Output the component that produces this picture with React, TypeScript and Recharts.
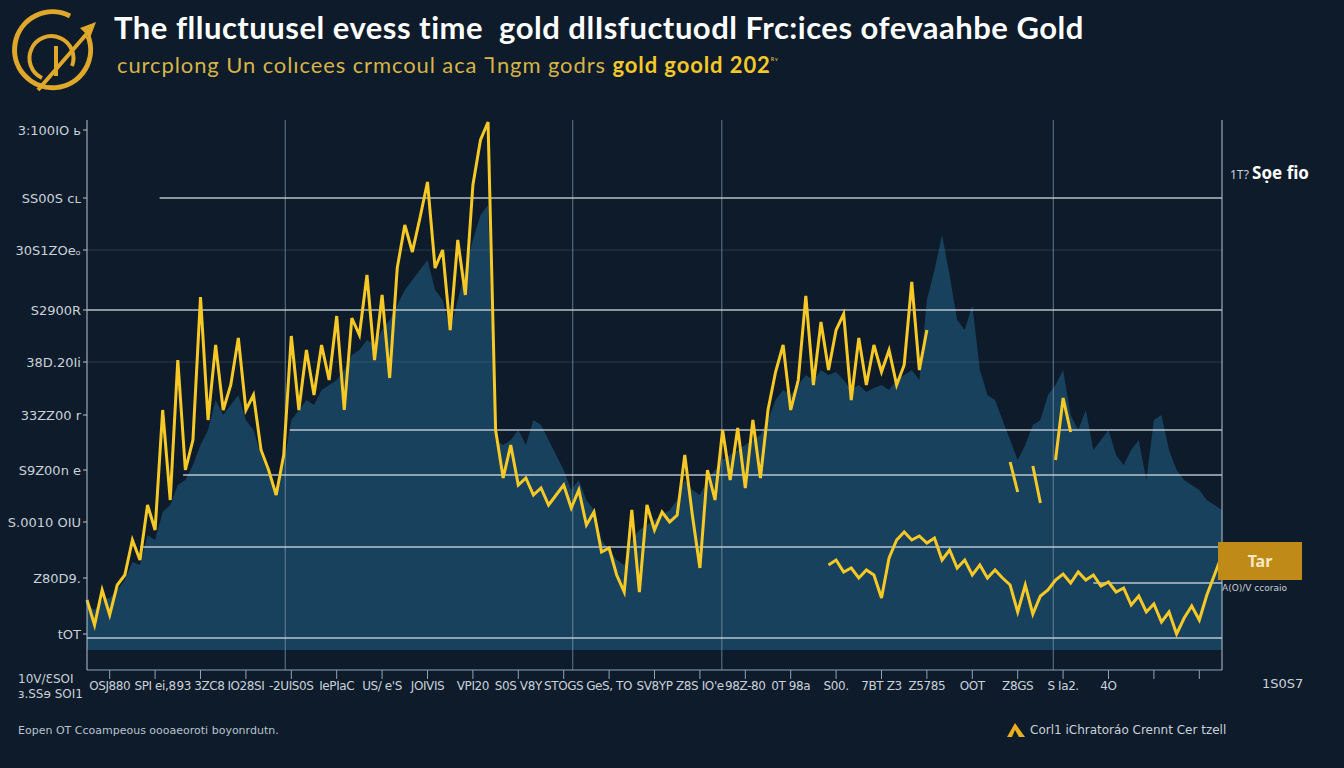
import React from 'react';
import { ComposedChart, Area, Line, XAxis, YAxis, ReferenceLine } from 'recharts';

// gold price, main trace (null = gap)
const goldMain: (number | null)[] = [
  1140, 1090, 1160, 1110, 1170, 1190, 1260, 1220, 1330, 1280,
  1520, 1340, 1620, 1400, 1460, 1746, 1500, 1650, 1520, 1570,
  1664, 1520, 1550, 1440, 1400, 1350, 1430, 1668, 1520, 1640,
  1550, 1650, 1580, 1708, 1520, 1704, 1670, 1790, 1620, 1750,
  1584, 1804, 1890, 1836, 1904, 1976, 1804, 1840, 1680, 1860,
  1750, 1970, 2060, 2096, 1480, 1384, 1450, 1370, 1384, 1350,
  1364, 1330, 1350, 1370, 1324, 1360, 1290, 1316, 1236, 1244,
  1190, 1156, 1320, 1156, 1330, 1280, 1316, 1296, 1310, 1430,
  1310, 1204, 1400, 1340, 1480, 1380, 1484, 1364, 1500, 1384,
  1520, 1596, 1650, 1520, 1580, 1748, 1570, 1696, 1600, 1680,
  1712, 1540, 1664, 1570, 1650, 1596, 1640, 1570, 1610, 1776,
  1600, 1680, null, null, null, null, null, null, null, null,
  null, null, 1416, 1356, null, 1408, 1334, null, 1420, 1544,
  1476, null, null, null, null, null, null, null, null, null,
  null, null, null, null, null, null, null, null, null, null,
  null,
];

// gold price, lower trace on the right
const goldLower: (number | null)[] = [
  null, null, null, null, null, null, null, null, null, null,
  null, null, null, null, null, null, null, null, null, null,
  null, null, null, null, null, null, null, null, null, null,
  null, null, null, null, null, null, null, null, null, null,
  null, null, null, null, null, null, null, null, null, null,
  null, null, null, null, null, null, null, null, null, null,
  null, null, null, null, null, null, null, null, null, null,
  null, null, null, null, null, null, null, null, null, null,
  null, null, null, null, null, null, null, null, null, null,
  null, null, null, null, null, null, null, null, 1210, 1220,
  1196, 1204, 1184, 1200, 1190, 1144, 1224, 1260, 1276, 1260,
  1268, 1254, 1264, 1220, 1240, 1204, 1220, 1190, 1210, 1184,
  1200, 1184, 1170, 1116, 1170, 1112, 1148, 1160, 1180, 1192,
  1174, 1196, 1180, 1190, 1168, 1176, 1156, 1164, 1130, 1148,
  1116, 1132, 1096, 1116, 1072, 1104, 1128, 1100, 1150, 1190,
  1230,
];

// blue background volume
const volume: number[] = [
  1130, 1120, 1140, 1144, 1160, 1180, 1216, 1210, 1270, 1260,
  1316, 1330, 1370, 1380, 1410, 1450, 1480, 1540, 1510, 1530,
  1550, 1500, 1480, 1430, 1390, 1360, 1410, 1500, 1520, 1540,
  1530, 1560, 1570, 1580, 1600, 1630, 1640, 1660, 1650, 1680,
  1700, 1730, 1760, 1780, 1800, 1820, 1760, 1740, 1680, 1740,
  1800, 1860, 1910, 1930, 1460, 1450, 1460, 1480, 1450, 1500,
  1490, 1460, 1430, 1400, 1360, 1380, 1340, 1320, 1260, 1240,
  1220, 1210, 1260, 1280, 1290, 1300, 1310, 1320, 1340, 1380,
  1360, 1350, 1380, 1400, 1420, 1430, 1440, 1450, 1460, 1470,
  1500, 1540, 1560, 1550, 1570, 1590, 1580, 1600, 1590, 1596,
  1580, 1560, 1570, 1556, 1564, 1570, 1560, 1580, 1590, 1600,
  1580, 1740, 1800, 1870, 1790, 1700, 1680, 1730, 1600, 1550,
  1540, 1500, 1460, 1420, 1450, 1490, 1500, 1550, 1570, 1600,
  1510, 1480, 1520, 1440, 1460, 1480, 1430, 1410, 1440, 1460,
  1380, 1500, 1510, 1440, 1400, 1380, 1370, 1360, 1340, 1330,
  1320,
];

const leftTicks = [2080, 1944, 1840, 1720, 1616, 1510, 1400, 1296, 1184, 1072];
const leftLabels = ['3:100IO ь', 'SS00S ᴄʟ', '30S1ZOeₒ', 'S2900R', '38D.20Ii', '33ZZ00 r', 'S9Z00n e', 'S.0010 OIU', 'Z80D9.', 'tOT'];

const rightTicks = [1954, 1840, 1724, 1616, 1494, 1384, 1266, 1074];
const rightLabels = ['2022TOS', '3000 20 00', '38k4G8S', 'AS/04..387', '1OI 3900', 'S29 A 00C', "197.6c/327'2S", '3U29S'];

const xTicks = [3, 9, 15, 21, 27, 33, 39, 45, 51, 57, 63, 69, 75, 81, 87, 93, 99, 105, 111, 117, 123, 129, 135, 141, 147];
const xLabels = ['OSJ880', 'SPI ei,8', '93 3ZC8', 'IO28SI', '-2UIS0S', 'IePIaC', "US/ e'S", 'JOIVIS', 'VPI20', 'S0S V8Y', 'STOGS', 'GeS, TO', 'SV8YP', "Z8S IO'e", '98Z-80', '0T 98a', 'S00.', '7BT Z3', 'Z5785', 'OOT', 'Z8GS', 'S Ia2.', '4O', '', ''];

// horizontal grid levels: [price, from index]
const hLevels: [number, number][] = [[1944, 9.6], [1720, 0], [1480, 26.8], [1390, 12.7], [1246, 7], [1174, 133], [1064, 0]];
const hFaint = [1840, 1616];
const vLevels = [26.2, 64.2, 83.9, 127.7];

const data = volume.map((v, i) => ({ i, vol: v, gold: goldMain[i], gold2: goldLower[i] }));

const BG = '#0d1b2a';
const GOLD = '#f6c927';
const TXT = '#c9d2db';

const Logo = () => (
  <svg width={90} height={90} style={{ position: 'absolute', left: 10, top: 6 }}>
    <path d="M 78 30 A 38 38 0 1 1 60 10" fill="none" stroke="#e0a82a" strokeWidth={5} />
    <path d="M 32 72 A 22 22 0 1 1 62 60" fill="none" stroke="#e0a82a" strokeWidth={4} />
    <line x1={28} y1={84} x2={80} y2={24} stroke="#e0a82a" strokeWidth={4} />
    <polygon points="86,16 70,22 80,32" fill="#e0a82a" />
    <line x1={46} y1={40} x2={46} y2={70} stroke="#e0a82a" strokeWidth={4} />
  </svg>
);

export default function App() {
  return (
    <div style={{ position: 'fixed', left: 0, top: 0, width: 1344, height: 768, background: BG, overflow: 'hidden' }}>
      <Logo />
      <div style={{ position: 'absolute', left: 114, top: 8, color: '#ffffff', fontFamily: 'Lato', fontWeight: 700, fontSize: 31, letterSpacing: 0.5, whiteSpace: 'nowrap' }}>
        The flluctuusel evess time&nbsp; gold dlIsfuctuodl Frc:ices ofevaahbe Gold
      </div>
      <div style={{ position: 'absolute', left: 117, top: 49, fontFamily: 'Lato', fontSize: 22, whiteSpace: 'nowrap', letterSpacing: 0.9 }}>
        <span style={{ color: '#d6b449' }}>curcplong Un colıcees crmcoul aca Ꞁngm godrs </span>
        <span style={{ color: '#f5c82a', fontWeight: 700 }}>gold goold 202</span>
        <sup style={{ color: '#d6b449', fontSize: 10 }}>ᴿᵛ</sup>
      </div>

      <ComposedChart width={1344} height={768} data={data} margin={{ top: 120, right: 22, bottom: 68, left: 0 }}>
        <XAxis
          dataKey="i"
          type="number"
          domain={[0, 150]}
          ticks={xTicks}
          tickFormatter={(v: number) => xLabels[xTicks.indexOf(v)]}
          interval={0}
          height={30}
          tickSize={9}
          stroke="#8fa4b8"
          tick={{ fill: TXT, fontSize: 12, fontFamily: 'DejaVu Sans', letterSpacing: -0.4 }}
        />
        <YAxis
          yAxisId="left"
          domain={[1000, 2100]}
          ticks={leftTicks}
          tickFormatter={(v: number) => leftLabels[leftTicks.indexOf(v)]}
          interval={0}
          width={87}
          tickSize={4}
          stroke="#b8c6d2"
          tick={{ fill: TXT, fontSize: 13, fontFamily: 'DejaVu Sans' }}
        />
        <YAxis
          yAxisId="right"
          orientation="right"
          domain={[1000, 2100]}
          ticks={rightTicks}
          tickFormatter={(v: number) => rightLabels[rightTicks.indexOf(v)]}
          interval={0}
          width={100}
          tickSize={6}
          stroke="#b8c6d2"
          tick={{ fill: TXT, fontSize: 13, fontFamily: 'DejaVu Sans', textAnchor: 'start' }}
        />
        <Area
          yAxisId="left"
          dataKey="vol"
          type="linear"
          stroke="none"
          fill="#184360"
          fillOpacity={0.95}
          baseValue={1040}
          isAnimationActive={false}
        />
        {hFaint.map((p) => (
          <ReferenceLine key={`f${p}`} yAxisId="left" y={p} stroke="#5d7386" strokeOpacity={0.35} />
        ))}
        {vLevels.map((x) => (
          <ReferenceLine key={`v${x}`} yAxisId="left" x={x} stroke="#8aa0b4" strokeOpacity={0.7} />
        ))}
        {hLevels.map(([p, from]) => (
          <ReferenceLine
            key={`h${p}`}
            yAxisId="left"
            segment={[{ x: from, y: p }, { x: 150, y: p }]}
            stroke="#d3dce3"
            strokeWidth={1.6}
            strokeOpacity={0.85}
          />
        ))}
        <Line yAxisId="left" dataKey="gold" type="linear" stroke={GOLD} strokeWidth={3} strokeLinejoin="miter" dot={false} connectNulls={false} isAnimationActive={false} />
        <Line yAxisId="left" dataKey="gold2" type="linear" stroke={GOLD} strokeWidth={3} strokeLinejoin="miter" dot={false} connectNulls={false} isAnimationActive={false} />
      </ComposedChart>

      <div style={{ position: 'absolute', left: 1230, top: 161, color: '#fff', fontFamily: 'Noto Sans', whiteSpace: 'nowrap' }}>
        <span style={{ fontSize: 12, color: TXT }}>1T? </span>
        <span style={{ fontSize: 17, fontWeight: 700 }}>Sọe fio</span>
      </div>
      <div style={{ position: 'absolute', left: 1218, top: 542, width: 84, height: 38, background: '#bf8a18', color: '#f8ebc4', fontFamily: 'Noto Sans', fontWeight: 700, fontSize: 16, display: 'flex', alignItems: 'center', justifyContent: 'center' }}>
        Tar
      </div>
      <div style={{ position: 'absolute', left: 1222, top: 583, color: TXT, fontFamily: 'DejaVu Sans', fontSize: 9, whiteSpace: 'nowrap' }}>A(O)/V ccoraio</div>
      <div style={{ position: 'absolute', left: 1262, top: 676, color: TXT, fontFamily: 'DejaVu Sans', fontSize: 13 }}>1S0S7</div>
      <div style={{ position: 'absolute', left: 18, top: 672, color: TXT, fontFamily: 'DejaVu Sans', fontSize: 12, lineHeight: '15px', whiteSpace: 'nowrap' }}>
        10V/ƐSOI<br />ɜ.SSɘ SOI1
      </div>
      <div style={{ position: 'absolute', left: 18, top: 724, color: '#b8c4cf', fontFamily: 'DejaVu Sans', fontSize: 11, whiteSpace: 'nowrap' }}>
        Eopen OT Ccoampeous oooaeoroti boyonrdutn.
      </div>
      <div style={{ position: 'absolute', left: 1005, top: 721, color: TXT, fontFamily: 'DejaVu Sans', fontSize: 12, whiteSpace: 'nowrap', display: 'flex', alignItems: 'center' }}>
        <svg width={22} height={18}><polygon points="2,16 10,2 20,16 14,16 10,9 7,16" fill="#e8b020" /></svg>
        <span style={{ marginLeft: 3 }}>Corl1 iChratoráo Crennt Cer tzell</span>
      </div>
    </div>
  );
}
